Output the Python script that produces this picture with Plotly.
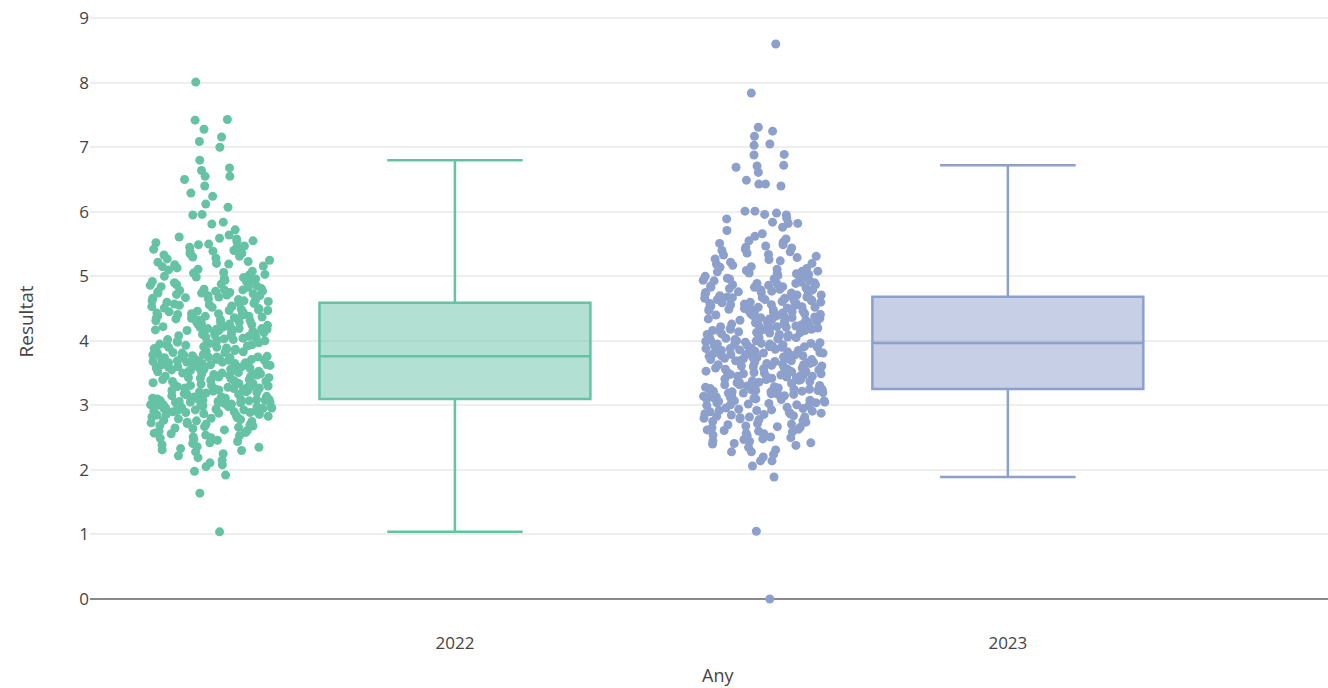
import plotly.graph_objects as go

# Resultat values per year
resultat_2022 = [
    1.04, 1.64, 1.92, 1.98, 2.05, 2.08, 2.11, 2.15, 2.19, 2.22, 2.25, 2.28,
    2.30, 2.31, 2.33, 2.35, 2.36, 2.39, 2.41, 2.42, 2.44, 2.46, 2.47, 2.49,
    2.50, 2.51, 2.53, 2.54, 2.56, 2.57, 2.58, 2.60, 2.61, 2.62, 2.64, 2.65, 2.66, 2.67, 2.68, 2.69,
    2.70, 2.71, 2.72, 2.73, 2.74, 2.75, 2.76, 2.77, 2.78, 2.79, 2.80, 2.81, 2.82, 2.83, 2.84, 2.85,
    2.86, 2.86, 2.87, 2.88, 2.89, 2.89,
    2.90, 2.90, 2.91, 2.91, 2.92, 2.93, 2.93, 2.94, 2.95, 2.95, 2.96, 2.96, 2.97, 2.97, 2.98, 2.98,
    2.99, 2.99, 3.00, 3.00, 3.00, 3.01, 3.01, 3.02, 3.02, 3.03, 3.03, 3.04, 3.04, 3.05, 3.05, 3.05,
    3.06, 3.06, 3.07, 3.07, 3.08, 3.08, 3.08, 3.09, 3.09, 3.09, 3.09,
    3.10, 3.11, 3.11, 3.12, 3.13, 3.13, 3.14, 3.15, 3.16, 3.16, 3.17, 3.18, 3.19, 3.19, 3.20,
    3.21, 3.21, 3.22, 3.23, 3.23, 3.24, 3.25, 3.25, 3.26, 3.27, 3.27, 3.28, 3.28, 3.29, 3.29,
    3.30, 3.31, 3.31, 3.32, 3.33, 3.34, 3.34, 3.35, 3.36, 3.37, 3.37, 3.38, 3.39, 3.40, 3.40,
    3.41, 3.42, 3.43, 3.43, 3.44, 3.45, 3.45, 3.46, 3.47, 3.48, 3.48, 3.49, 3.49,
    3.50, 3.50, 3.51, 3.52, 3.52, 3.53, 3.54, 3.54, 3.55, 3.56, 3.56, 3.57, 3.58, 3.58, 3.59,
    3.60, 3.60, 3.61, 3.62, 3.62, 3.63, 3.63, 3.64, 3.65, 3.65, 3.66, 3.66, 3.67, 3.67, 3.68,
    3.68, 3.69, 3.69, 3.70, 3.70, 3.71, 3.71, 3.72, 3.72, 3.73, 3.73, 3.74, 3.74, 3.74, 3.75,
    3.75, 3.75,
    3.76, 3.77, 3.78, 3.78, 3.79, 3.80, 3.81, 3.82, 3.82, 3.83, 3.84, 3.85, 3.86, 3.86, 3.87,
    3.88, 3.89, 3.90, 3.90, 3.91, 3.92, 3.93, 3.94, 3.94, 3.95, 3.96, 3.97, 3.98, 3.98, 3.99,
    4.00, 4.01, 4.02, 4.02, 4.03, 4.04, 4.05, 4.06, 4.07, 4.08, 4.08, 4.09, 4.10, 4.11, 4.12,
    4.12, 4.13, 4.14, 4.15, 4.16, 4.16, 4.17, 4.18, 4.18, 4.19, 4.19, 4.19,
    4.20, 4.21, 4.21, 4.22, 4.23, 4.24, 4.25, 4.26, 4.26, 4.27, 4.28, 4.29, 4.30, 4.31, 4.31,
    4.32, 4.33, 4.34, 4.35, 4.35, 4.36, 4.37, 4.38, 4.38, 4.39, 4.39,
    4.40, 4.41, 4.42, 4.42, 4.43, 4.44, 4.45, 4.46, 4.47, 4.47, 4.48, 4.49, 4.50, 4.51, 4.52,
    4.53, 4.53, 4.54, 4.55, 4.56, 4.57, 4.58,
    4.59, 4.60, 4.61, 4.62, 4.62, 4.63, 4.64, 4.65, 4.66, 4.67, 4.68, 4.69, 4.70, 4.70, 4.71,
    4.72, 4.73, 4.74, 4.74, 4.75, 4.76, 4.77, 4.77, 4.78, 4.79, 4.79,
    4.80, 4.81, 4.83, 4.84, 4.85, 4.86, 4.87, 4.88, 4.90, 4.91, 4.92, 4.93, 4.94, 4.96, 4.97,
    4.98, 4.99,
    5.00, 5.02, 5.03, 5.05, 5.06, 5.08, 5.10, 5.11, 5.13, 5.15, 5.16, 5.18, 5.19,
    5.20, 5.22, 5.23, 5.25, 5.27, 5.28, 5.30, 5.31, 5.33, 5.35, 5.36, 5.38, 5.39,
    5.40, 5.42, 5.44, 5.45, 5.47, 5.49, 5.50, 5.52, 5.54, 5.55, 5.58,
    5.59, 5.61, 5.64, 5.72, 5.81, 5.84, 5.95, 5.96,
    6.07, 6.12, 6.24, 6.29, 6.40, 6.50, 6.55, 6.55, 6.64, 6.68, 6.80,
    7.00, 7.09, 7.16, 7.28, 7.42, 7.43, 8.01,
]

resultat_2023 = [
    0.00, 1.05, 1.89, 2.06, 2.14, 2.14, 2.20, 2.24, 2.28, 2.28, 2.31, 2.35, 2.38,
    2.40, 2.41, 2.42, 2.44, 2.45, 2.47, 2.48, 2.50, 2.51, 2.53, 2.54, 2.56, 2.57, 2.59,
    2.60, 2.61, 2.62, 2.63, 2.65, 2.66, 2.67, 2.68, 2.70, 2.71, 2.72, 2.74, 2.75, 2.76, 2.78, 2.79,
    2.80, 2.81, 2.82, 2.82, 2.83, 2.84, 2.85, 2.86, 2.87, 2.87, 2.88, 2.89, 2.90, 2.91, 2.92,
    2.92, 2.93, 2.94, 2.95, 2.96, 2.97, 2.99,
    3.00, 3.01, 3.01, 3.02, 3.03, 3.04, 3.04, 3.05, 3.06, 3.07, 3.07, 3.08, 3.09, 3.10, 3.10,
    3.11, 3.12, 3.12, 3.13, 3.14, 3.15, 3.15, 3.16, 3.17, 3.17, 3.18, 3.19, 3.19, 3.20, 3.21,
    3.21, 3.22, 3.22, 3.23, 3.23, 3.24, 3.24, 3.25, 3.25, 3.25,
    3.26, 3.27, 3.28, 3.28, 3.29, 3.30, 3.31, 3.32, 3.32, 3.33, 3.34, 3.35, 3.36, 3.36, 3.37,
    3.38, 3.39, 3.40, 3.40, 3.41, 3.42, 3.43, 3.43, 3.44, 3.45, 3.45, 3.46, 3.47, 3.47, 3.48,
    3.49, 3.49,
    3.50, 3.51, 3.51, 3.52, 3.53, 3.53, 3.54, 3.55, 3.56, 3.56, 3.57, 3.58, 3.58, 3.59, 3.60,
    3.61, 3.61, 3.62, 3.63, 3.63, 3.64, 3.65, 3.65, 3.66, 3.67, 3.67, 3.68, 3.69, 3.69, 3.70,
    3.71, 3.71, 3.72, 3.73, 3.73, 3.74,
    3.75, 3.75, 3.76, 3.77, 3.77, 3.78, 3.79, 3.79, 3.80, 3.81, 3.81, 3.82, 3.83, 3.83, 3.84,
    3.85, 3.85, 3.86, 3.87, 3.87, 3.88, 3.88, 3.89, 3.90, 3.90, 3.91, 3.91, 3.92, 3.92, 3.93,
    3.93, 3.94, 3.94, 3.95, 3.95, 3.96, 3.96,
    3.97, 3.98, 3.99, 4.00, 4.00, 4.01, 4.02, 4.03, 4.04, 4.05, 4.05, 4.06, 4.07, 4.08, 4.09,
    4.10, 4.10, 4.11, 4.12, 4.13, 4.13, 4.14, 4.15, 4.16, 4.16, 4.17, 4.18, 4.18, 4.19, 4.19,
    4.20, 4.20, 4.21, 4.22, 4.22, 4.23, 4.24, 4.24, 4.25, 4.26, 4.26, 4.27, 4.28, 4.28, 4.29,
    4.30, 4.30, 4.31, 4.32, 4.32, 4.33, 4.34, 4.34, 4.35, 4.36, 4.36, 4.37, 4.38, 4.38, 4.39,
    4.40, 4.40, 4.41, 4.42, 4.42, 4.43, 4.44, 4.44,
    4.45, 4.46, 4.46, 4.47, 4.48, 4.48, 4.49, 4.50, 4.50, 4.51, 4.52, 4.52, 4.53, 4.54, 4.54,
    4.55, 4.56, 4.56, 4.57, 4.58, 4.58, 4.59, 4.60, 4.60, 4.61, 4.62, 4.62, 4.63, 4.64, 4.64,
    4.65, 4.66, 4.66, 4.67, 4.67, 4.68, 4.68,
    4.69, 4.70, 4.71, 4.71, 4.72, 4.73, 4.74, 4.75, 4.75, 4.76, 4.77, 4.78, 4.79, 4.79, 4.80,
    4.81, 4.82, 4.83, 4.83, 4.84, 4.85, 4.86, 4.87, 4.87, 4.88, 4.89, 4.89,
    4.90, 4.91, 4.93, 4.93, 4.94, 4.96, 4.96, 4.97, 4.99, 5.00, 5.00, 5.01, 5.03, 5.04, 5.04,
    5.05, 5.07, 5.08, 5.08, 5.09,
    5.11, 5.12, 5.14, 5.15, 5.17, 5.19, 5.20, 5.22, 5.24, 5.26, 5.27, 5.29,
    5.31, 5.33, 5.34, 5.36, 5.38, 5.40, 5.42, 5.44, 5.45, 5.47, 5.49,
    5.51, 5.53, 5.55, 5.58, 5.62, 5.66, 5.71, 5.76, 5.82, 5.82,
    5.84, 5.89, 5.90, 5.95, 5.96, 5.98, 6.01, 6.01,
    6.40, 6.43, 6.43, 6.49, 6.61, 6.69, 6.71, 6.72,
    6.88, 6.89, 7.03, 7.05, 7.17, 7.25, 7.31, 7.84, 8.60,
]

years = ["2022", "2023"]
series = [resultat_2022, resultat_2023]
colors = ["#66c2a5", "#8da0cb"]

fig = go.Figure()
for year, vals, col in zip(years, series, colors):
    fig.add_trace(go.Box(
        x=[year] * len(vals),
        y=vals,
        name=year,
        boxpoints="all",
        jitter=0.45,
        pointpos=-1.8,
        marker=dict(color=col, size=9),
        line=dict(color=col, width=2.5),
        showlegend=False,
    ))

fig.update_layout(
    template="none",
    width=1328,
    height=688,
    margin=dict(l=90, r=0, t=15, b=60),
    boxmode="overlay",
    paper_bgcolor="white",
    plot_bgcolor="white",
    font=dict(family="Open Sans, sans-serif", color="#444", size=17),
    xaxis=dict(
        type="category",
        categoryorder="array",
        categoryarray=years,
        range=[-0.66, 1.579],
        showgrid=False,
        zeroline=False,
        tickfont=dict(size=17),
        ticklabelstandoff=3,
    ),
    yaxis=dict(
        title=dict(text="Resultat", font=dict(size=19), standoff=40),
        range=[-0.45, 9.05],
        dtick=1,
        tick0=0,
        tickfont=dict(size=17),
        showgrid=True,
        gridcolor="#eee",
        gridwidth=1.5,
        zeroline=True,
        zerolinecolor="#8a8a8a",
        zerolinewidth=2,
    ),
    annotations=[dict(
        text="Any", xref="paper", yref="paper", x=0.5073, y=0,
        xanchor="center", yanchor="middle", yshift=-47,
        showarrow=False, font=dict(size=18, color="#444"),
    )],
)

fig.write_html("out.html")
